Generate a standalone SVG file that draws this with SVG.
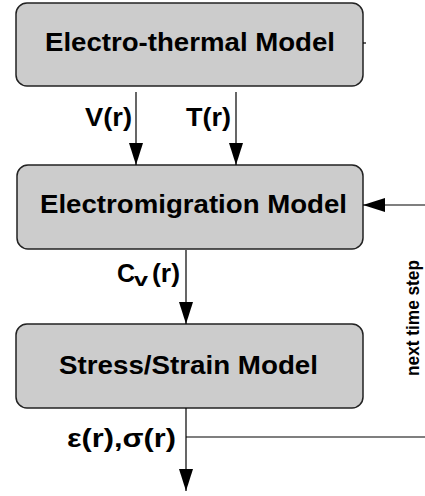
<svg xmlns="http://www.w3.org/2000/svg" width="425" height="496" viewBox="0 0 425 496">
<style>
.box{fill:#cccccc;stroke:#222222;stroke-width:1.5}
.title{font-family:"Liberation Sans",Arial,sans-serif;font-weight:bold;font-size:25px;fill:#000}
.lbl{font-family:"Liberation Sans",Arial,sans-serif;font-weight:bold;font-size:25px;fill:#000}
.side{font-family:"Liberation Sans",Arial,sans-serif;font-weight:bold;font-size:18px;fill:#000}
.wire{stroke:#000;stroke-width:1.2;fill:none}
</style>
<defs>
<marker id="ah" markerUnits="userSpaceOnUse" markerWidth="24" markerHeight="16" refX="22" refY="7" orient="auto">
<path d="M0,0 L22,7 L0,14 Z" fill="#000"/>
</marker>
</defs>
<g id="electro-thermal">
<rect class="box" x="16" y="3" width="347" height="83" rx="11"/>
<text class="title" x="45" y="51" textLength="290" lengthAdjust="spacingAndGlyphs">Electro-thermal Model</text>
</g>
<g id="electromigration">
<rect class="box" x="17" y="165" width="346" height="84" rx="11"/>
<text class="title" x="40" y="213" textLength="307" lengthAdjust="spacingAndGlyphs">Electromigration Model</text>
</g>
<g id="stress-strain">
<rect class="box" x="16" y="324" width="347" height="84" rx="11"/>
<text class="title" x="59" y="374" textLength="259" lengthAdjust="spacingAndGlyphs">Stress/Strain Model</text>
</g>
<g id="connectors">
<line class="wire" x1="136" y1="92" x2="136" y2="165" marker-end="url(#ah)"/>
<line class="wire" x1="236" y1="92" x2="236" y2="165" marker-end="url(#ah)"/>
<line class="wire" x1="186" y1="250" x2="186" y2="324" marker-end="url(#ah)"/>
<line class="wire" x1="186" y1="408" x2="186" y2="491" marker-end="url(#ah)"/>
<line class="wire" x1="186" y1="437" x2="425" y2="437"/>
<line class="wire" x1="425" y1="205" x2="363" y2="205" marker-end="url(#ah)"/>
<line class="wire" x1="363" y1="43" x2="366" y2="43"/>
<text class="lbl" x="85" y="126" textLength="47" lengthAdjust="spacingAndGlyphs">V(r)</text>
<text class="lbl" x="186" y="126" textLength="45" lengthAdjust="spacingAndGlyphs">T(r)</text>
<text class="lbl"><tspan x="117" y="282">C</tspan><tspan x="134" y="286" font-size="18" textLength="14" lengthAdjust="spacingAndGlyphs">v</tspan><tspan x="152" y="282" textLength="28" lengthAdjust="spacingAndGlyphs">(r)</tspan></text>
<text class="lbl" x="67" y="447" font-size="26" textLength="109" lengthAdjust="spacingAndGlyphs">ε(r),σ(r)</text>
<text class="side" transform="translate(419,376) rotate(-90)" x="0" y="0" textLength="116" lengthAdjust="spacingAndGlyphs">next time step</text>
</g>
</svg>
